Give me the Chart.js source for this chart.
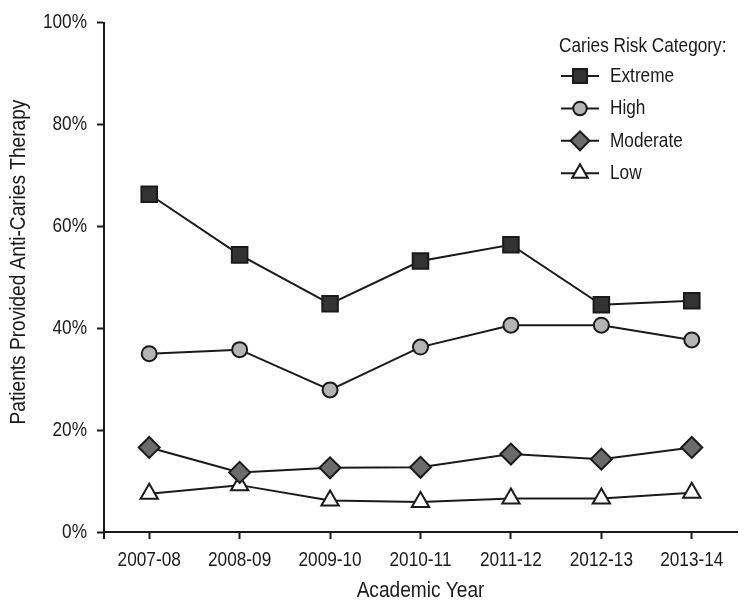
<!DOCTYPE html>
<html>
<head>
<meta charset="utf-8">
<script src="https://cdn.jsdelivr.net/npm/chart.js@4.4.1/dist/chart.umd.min.js"></script>
<style>
  html, body { margin:0; padding:0; background:#fff; }
  #wrap { width:750px; height:604px; position:relative; }
</style>
</head>
<body>
<div id="wrap"><canvas id="c" width="750" height="604"></canvas></div>
<script>
/* anti-caries therapy by risk category, line chart */

const years = ['2007-08','2008-09','2009-10','2010-11','2011-12','2012-13','2013-14'];
const extreme  = [66.3, 54.4, 44.8, 53.2, 56.4, 44.6, 45.4];
const high     = [35.0, 35.8, 27.9, 36.3, 40.6, 40.6, 37.7];
const moderate = [16.6, 11.7, 12.6, 12.7, 15.3, 14.3, 16.6];
const low      = [7.5, 9.2, 6.2, 5.9, 6.6, 6.6, 7.7];
const yTicks = [0, 20, 40, 60, 80, 100];
const yTitle = 'Patients Provided Anti-Caries Therapy';
const xTitle = 'Academic Year';

const FONT = '"Liberation Sans", Arial, sans-serif';
const INK = '#1a1a1a';

// no narrow face installed: squeeze text horizontally to look like Arial Narrow
// (22px title text is squeezed a bit less than the 21px tick text)
(function(){
  const proto = CanvasRenderingContext2D.prototype;
  const orig = proto.fillText;
  proto.fillText = function(text, x, y, maxWidth){
    const m = /(\d+(?:\.\d+)?)px/.exec(this.font);
    const k = (m && parseFloat(m[1]) >= 22) ? 0.868 : 0.82;
    this.save();
    this.translate(x, y);
    this.scale(k, 1);
    if (maxWidth !== undefined) orig.call(this, text, 0, 0, maxWidth / k);
    else orig.call(this, text, 0, 0);
    this.restore();
  };
})();

function series(label, data, style, fill, radius){
  return {
    label, data,
    borderColor: INK,
    borderWidth: 2,
    pointStyle: style,
    pointRadius: radius,
    pointHoverRadius: radius,
    pointBackgroundColor: fill,
    pointBorderColor: INK,
    pointBorderWidth: 2,
    tension: 0,
    fill: false
  };
}

const datasets = [
  series('Extreme', extreme, 'rect', '#333333', 11),
  series('High', high, 'circle', '#b4b4b4', 7.5),
  series('Moderate', moderate, 'rectRot', '#6b6b6b', 10.5),
  series('Low', low, 'triangle', '#ffffff', 10)
];

// legend + y title drawn by hand so they sit where the original has them
const riskLegend = {
  id: 'riskLegend',
  afterDatasetsDraw(chart){
    const ctx = chart.ctx;
    const area = chart.chartArea;
    ctx.save();
    // y axis pokes a little below the x axis in the original
    ctx.strokeStyle = INK;
    ctx.lineWidth = 2;
    ctx.beginPath();
    ctx.moveTo(area.left, area.bottom);
    ctx.lineTo(area.left, area.bottom + 7);
    ctx.stroke();

    ctx.fillStyle = INK;
    ctx.textBaseline = 'middle';
    ctx.textAlign = 'center';
    ctx.font = '22px ' + FONT;
    ctx.save();
    ctx.translate(19, 262);
    ctx.rotate(-Math.PI / 2);
    ctx.fillText(yTitle, 0, 0);
    ctx.restore();

    ctx.font = '21px ' + FONT;
    ctx.textAlign = 'left';
    ctx.fillText('Caries Risk Category:', 559, 46);
    chart.data.datasets.forEach((ds, i) => {
      const y = 76 + i * 32.4;
      ctx.strokeStyle = INK;
      ctx.lineWidth = 2;
      ctx.beginPath();
      ctx.moveTo(561, y);
      ctx.lineTo(599, y);
      ctx.stroke();
      ctx.fillStyle = ds.pointBackgroundColor;
      ctx.strokeStyle = INK;
      ctx.lineWidth = 2;
      Chart.helpers.drawPoint(ctx, { pointStyle: ds.pointStyle, radius: ds.pointRadius * 0.9, rotation: 0, borderWidth: 2 }, 580, y);
      ctx.fillStyle = INK;
      ctx.fillText(ds.label, 610, y);
    });
    ctx.restore();
  }
};

new Chart(document.getElementById('c').getContext('2d'), {
  type: 'line',
  data: { labels: years, datasets },
  plugins: [riskLegend],
  options: {
    responsive: false,
    animation: false,
    layout: { padding: { top: 18, right: 6, left: 0, bottom: 0 } },
    plugins: { legend: { display:false }, tooltip: { enabled:false } },
    scales: {
      x: {
        offset: true,
        afterFit(scale){ scale.height = 72; },
        grid: { drawOnChartArea:false, offset:false, tickLength:7, tickWidth:2, color:INK },
        border: { color:INK, width:2 },
        ticks: { color:INK, padding:9, maxRotation:0, font:{ family:FONT, size:21 } },
        title: { display:true, text:xTitle, color:INK, padding:{ top:0, bottom:0 }, font:{ family:FONT, size:22 } }
      },
      y: {
        min: 0, max: 100,
        afterFit(scale){ scale.width = 104; },
        afterBuildTicks(scale){ scale.ticks = yTicks.map(v => ({ value:v })); },
        grid: { drawOnChartArea:false, tickLength:7, tickWidth:2, color:INK },
        border: { color:INK, width:2 },
        ticks: { color:INK, padding:10, font:{ family:FONT, size:21 }, callback: v => v + '%' },
        title: { display:false }
      }
    }
  }
});
</script>
</body>
</html>
